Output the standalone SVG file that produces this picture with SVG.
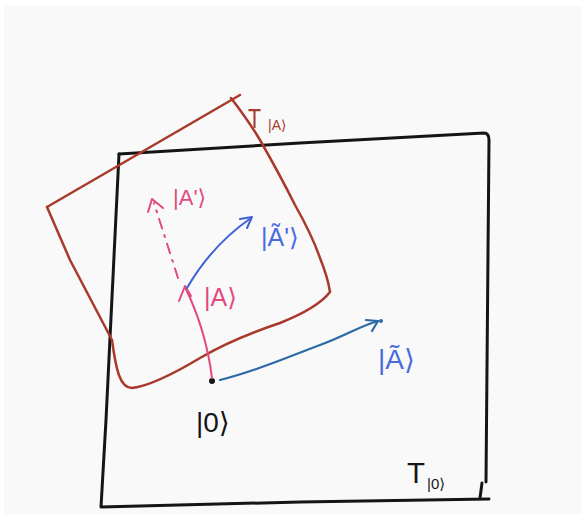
<svg xmlns="http://www.w3.org/2000/svg" width="582" height="515" viewBox="0 0 582 515">
<style>
.blk{fill:none;stroke:#151515;stroke-width:3;stroke-linecap:round;stroke-linejoin:round}
.red{fill:none;stroke:#a8392b;stroke-width:2.5;stroke-linecap:round;stroke-linejoin:round}
.pink{fill:none;stroke:#e3497f;stroke-width:2;stroke-linecap:round;stroke-linejoin:round}
.blue{fill:none;stroke:#3d62d6;stroke-width:2;stroke-linecap:round;stroke-linejoin:round}
.teal{fill:none;stroke:#2b6aa6;stroke-width:2.2;stroke-linecap:round;stroke-linejoin:round}
text{font-family:"Liberation Sans","DejaVu Sans",sans-serif}
.tp{fill:#e3497f}
.tb{fill:#4a6be0}
.tk{fill:#151515}
.tr{fill:#a8392b}
</style>
<rect x="0" y="0" width="582" height="515" fill="#ffffff"/>
<rect x="4" y="6" width="578" height="508" fill="#f9f9f9"/>

<g id="space-T0">
  <path class="blk" d="M119,154 L300,143 L484,133 Q489,133 489,140 L486,482"/>
  <path class="blk" d="M119,154 Q112,300 106,420 L101,507 L300,502 L489,499"/>
  <path class="blk" d="M482,483 L480,498"/>
  <text class="tk" x="407" y="483" font-size="30" textLength="18" lengthAdjust="spacingAndGlyphs">T</text>
  <text class="tk" x="427" y="489" font-size="15">|0⟩</text>
</g>

<g id="space-TA">
  <path class="red" d="M47,207 L240,95"/>
  <path class="red" d="M231,98 Q248,120 260,140 Q280,175 295,205 Q312,235 320,258 Q328,278 330,292 C320,305 300,315 280,323 C250,333 222,345 200,358 C175,373 150,386 132,388 C120,388 116,370 112,340 L70,260 L47,207"/>
  <text class="tr" x="248" y="128" font-size="28" textLength="13" lengthAdjust="spacingAndGlyphs">T</text>
  <text class="tr" x="268" y="130" font-size="14">|A⟩</text>
</g>

<g id="origin">
  <circle cx="212" cy="381" r="3" fill="#151515"/>
  <text class="tk" x="196" y="432" font-size="28">|0⟩</text>
</g>

<g id="connectors">
  <path class="pink" d="M212,378 Q206,330 185,287"/>
  <path class="pink" d="M179,301 L185,286 L191,296"/>
  <path class="pink" d="M178,278 L154,203" stroke-dasharray="10 7 2 7"/>
  <path class="pink" d="M148,212 L152,199 L163,208"/>
  <path class="blue" d="M187,288 Q212,245 251,218"/>
  <path class="blue" d="M240,219 L252,217 L247,228"/>
  <path class="teal" d="M220,380 C260,370 285,358 320,345 C345,336 360,326 378,321"/>
  <path class="teal" d="M366,320 L378,321 L372,331"/>
  <circle cx="381" cy="321" r="2" fill="#2b6aa6"/>
</g>

<g id="label-A">
  <text class="tp" x="204" y="306" font-size="25">|A⟩</text>
</g>
<g id="label-Aprime">
  <text class="tp" x="173" y="205" font-size="22">|A'⟩</text>
</g>
<g id="label-Atilde-prime">
  <text class="tb" x="261" y="246" font-size="25">|Ã'⟩</text>
</g>
<g id="label-Atilde">
  <text class="tb" x="378" y="369" font-size="28">|Ã⟩</text>
</g>
</svg>
